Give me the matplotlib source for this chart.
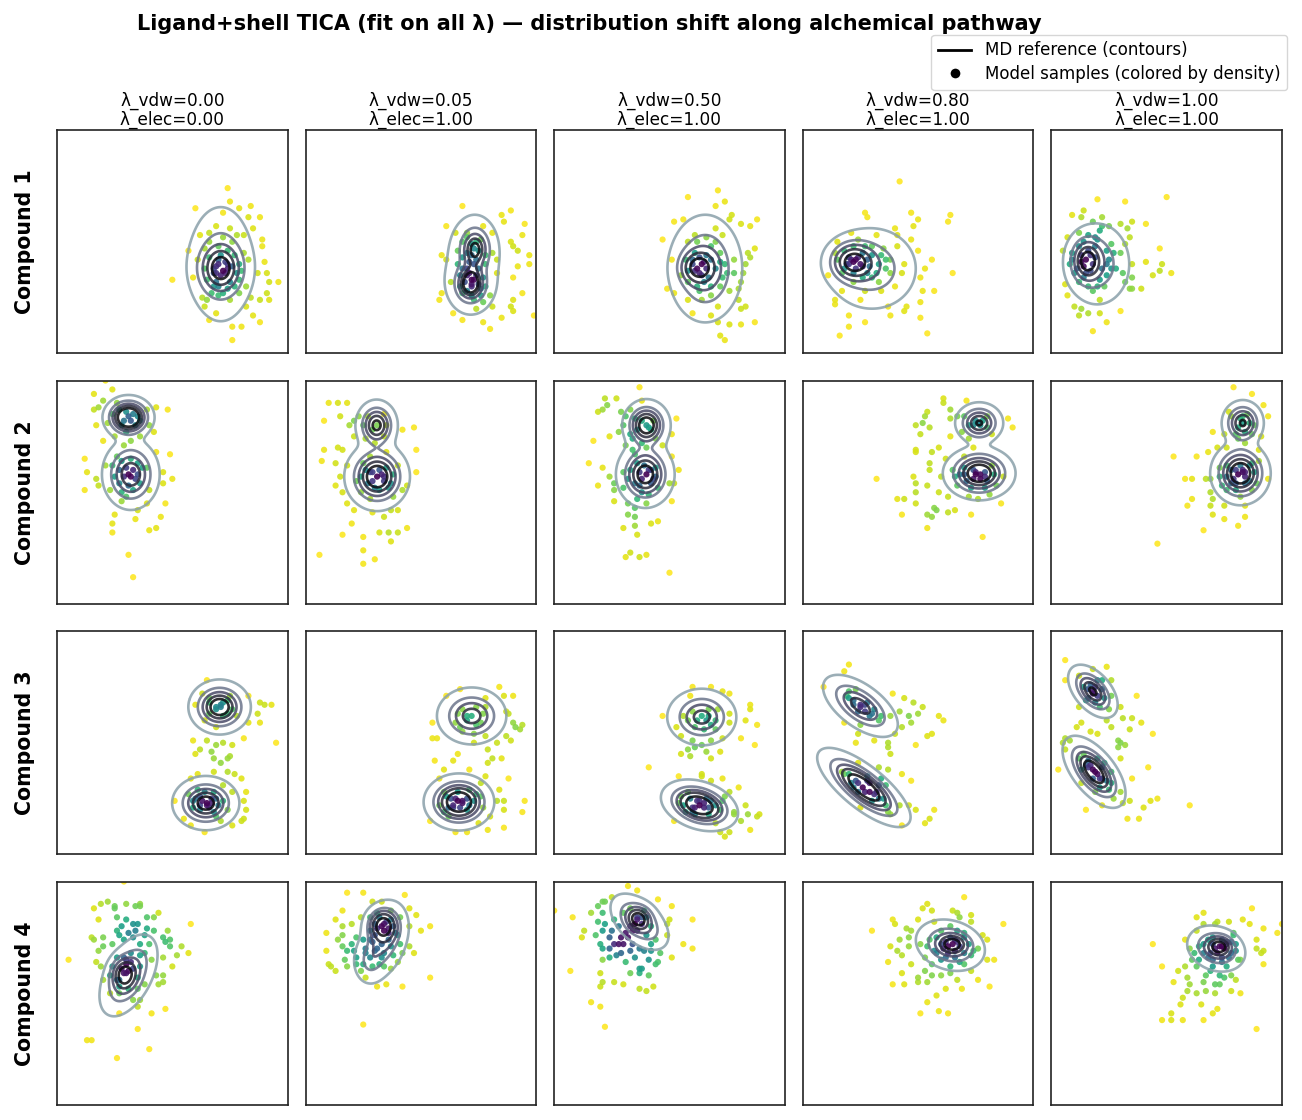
import numpy as np
import matplotlib.pyplot as plt
from matplotlib.lines import Line2D

# ----------------- labels -----------------
LAMBDA_VDW = [0.00, 0.05, 0.50, 0.80, 1.00]
LAMBDA_ELEC = [0.00, 1.00, 1.00, 1.00, 1.00]
COMPOUNDS = ["Compound 1", "Compound 2", "Compound 3", "Compound 4"]

# MD reference density: (cx, cy, sx, sy, rho, weight), TICA units 0-100
MD_C1 = [
    [(71, 38, 5, 6, 0, 0.5), (71, 40, 6.5, 12, 0, 0.5)],
    [(73.5, 47, 4, 6, 0, 0.4), (71.5, 31, 4, 5, 0, 0.4), (72, 38, 7, 11, 0, 0.2)],
    [(62.5, 38.5, 4, 4, 0, 0.3), (65.5, 38, 7, 10.5, 0, 0.7)],
    [(22, 41, 5, 4.5, 0, 0.5), (30, 38, 9, 8.5, 0, 0.5)],
    [(15.5, 41.5, 3.5, 5, 0, 0.5), (20, 40, 6.5, 8.5, 0, 0.5)],
]
MD_C2 = [
    [(31, 83.5, 4.5, 4, 0, 0.45), (32, 58, 5.5, 7, 0, 0.55)],
    [(30.8, 80, 4, 5, 0, 0.3), (31, 57, 6, 6.5, 0, 0.7)],
    [(40, 80, 4.5, 5, 0, 0.4), (39.5, 58, 5.5, 6.5, 0, 0.6)],
    [(76.5, 81, 4.5, 4, 0, 0.3), (76.5, 58.5, 6.5, 5, 0, 0.7)],
    [(83, 81, 4, 4.5, 0, 0.3), (82, 58.5, 5.5, 6, 0, 0.7)],
]
MD_C3 = [
    [(70.5, 66, 5.5, 5, 0, 0.5), (64.5, 23, 6, 5, 0, 0.5)],
    [(72, 62, 6.5, 5.5, 0, 0.4), (66.5, 23.5, 6, 5, 0, 0.6)],
    [(64, 61.5, 6.5, 5.5, 0, 0.4), (63, 22, 6.5, 4.5, -0.3, 0.6)],
    [(25, 66.5, 7, 6, -0.6, 0.35), (26.5, 30, 8, 7, -0.75, 0.65)],
    [(18, 73, 4.5, 5, -0.5, 0.35), (18.5, 37, 5.5, 6.5, -0.6, 0.65)],
]
MD_C4 = [
    [(29, 58.5, 3, 4, 0, 0.3), (31, 58, 5.5, 8, 0.5, 0.7)],
    [(33.5, 80.5, 3.5, 4, 0, 0.4), (34, 74, 5, 8, 0.3, 0.5), (27.5, 64, 3.5, 5, 0, 0.1)],
    [(36.5, 83.5, 3, 3, 0, 0.3), (37, 82, 5.5, 5.5, -0.5, 0.7)],
    [(65, 72, 3.5, 2.5, 0, 0.3), (64, 71.5, 6.5, 5, -0.2, 0.7)],
    [(73, 71, 3, 2.5, 0, 0.3), (71.5, 70, 5.5, 4.5, -0.2, 0.7)],
]

# model samples (TIC1, TIC2) per lambda window
SAMPLES_C1 = [
    [(74,74),(60,65),(84,66),(88,61),(75,68),(79,65),(83,61),(85,56),(89,51),(89,48),(57,46),(50,33),(90,41),(87,36),
     (91,36),(92,32),(96,32),(91,27),(92,24),(88,24),(84,25),(82,21),(85,17),(88,14),(80,12),(76,12),(76,6),(66,15),
     (69,18),(64,21),(63,25),(67,27),(59,34),(61,42),(64,47),(69,57),(72,63),(76,50),(78,53),(81,53),(81,45),(83,42),
     (71,44),(69,39),(73,36),(78,36),(76,39),(69,32),(70,30),(75,32),(79,33),(72,27),(75,24),(79,27),(68,36),(74,40),
     (82,30),(65,24),(62,53),(66,54),(70,40),(72,37),(68,38),(74,38),(71,35),(70,42),(73,41),(69,36),
     (66,50),(70,48),(74,46),(77,44),(79,40),(80,37),(77,30),(74,29),(68,30),(65,33),(64,38),(66,43),(72,52),(75,56),
     (70,26)],
    [(68,66),(89,64),(85,62),(86,59),(95,58),(94,53),(89,50),(92,46),(90,48),(97,44),(97,40),(92,39),(90,34),(94,27),
     (90,24),(89,21),(90,19),(85,16),(99,17),(80,11),(77,14),(68,15),(64,18),(58,24),(59,27),(59,44),(61,42),(61,57),
     (65,54),(70,54),(77,57),(81,54),(72,49),(76,51),(70,45),(71,41),(74,42),(68,38),(75,38),(70,35),(77,34),(72,30),
     (72,31),(73,33),(67,30),(68,27),(76,29),(73,24),(77,23),(80,26),(81,21),(74,20),(63,32),(83,42),(83,36),(81,45),
     (73,47),(74,50),(72,44),(71,36),(72,33),(70,38),(73,40),(74,35),
     (66,46),(68,50),(70,52),(75,46),(78,44),(78,40),(66,40),(67,35),(69,32),(75,31),(78,30),(70,28),(72,26),(76,26),
     (68,43)],
    [(71,73),(58,70),(74,68),(70,66),(77,62),(88,60),(81,58),(52,59),(47,51),(56,60),(76,60),(85,57),(87,47),(84,45),
     (85,43),(83,40),(82,36),(81,32),(80,29),(76,28),(80,24),(83,21),(81,20),(87,14),(81,13),(76,13),(71,14),(72,8),
     (74,6),(60,18),(68,17),(49,29),(52,27),(51,42),(55,35),(58,24),(64,24),(68,26),(73,34),(65,32),(64,35),(65,41),
     (67,34),(60,40),(61,45),(68,48),(73,53),(70,56),(61,53),(78,42),(78,36),(58,32),(63,28),(71,21),
     (62,38),(64,40),(61,37),(63,36),(66,38),(60,42),(63,43),(66,44),
     (58,50),(62,50),(66,52),(70,50),(72,45),(74,40),(75,36),(72,30),(68,30),(62,30),(58,37),(57,42),(70,38),(68,42),
     (72,41)],
    [(42,77),(27,63),(28,61),(47,63),(64,62),(63,59),(48,57),(50,60),(40,56),(41,53),(47,51),(50,46),(56,42),(65,36),
     (53,38),(51,34),(52,28),(57,28),(51,23),(51,16),(54,9),(45,21),(44,19),(38,17),(37,21),(27,14),(20,12),(16,8),
     (20,17),(14,22),(14,24),(17,28),(11,35),(14,45),(15,50),(21,54),(24,51),(32,53),(35,47),(38,42),(41,48),(33,40),
     (26,39),(20,40),(23,42),(21,42),(26,45),(28,36),(33,32),(34,28),(27,28),(22,32),(17,36),(40,30),(43,36),(38,36),
     (25,24),(22,41),(24,43),(20,43),(25,40),(19,40),(23,38),(28,42),(30,44),
     (18,46),(22,48),(27,48),(30,48),(34,44),(36,38),(32,36),(29,39),(26,34),(22,36),(18,38),(15,42),(30,34),(36,42),
     (44,40)],
    [(20,69),(32,68),(50,70),(14,64),(9,62),(13,61),(22,61),(30,58),(35,59),(41,58),(33,56),(22,57),(18,59),(25,57),
     (12,54),(7,52),(34,52),(32,49),(47,47),(5,46),(41,41),(35,40),(48,40),(47,37),(52,36),(44,35),(35,34),(32,32),
     (35,29),(34,29),(39,29),(30,19),(24,14),(18,10),(12,17),(16,18),(21,18),(13,20),(10,21),(7,26),(6,31),(8,40),
     (9,45),(16,53),(19,48),(21,55),(25,42),(28,38),(24,35),(21,33),(16,30),(18,28),(21,24),(15,36),(13,41),(11,38),
     (26,49),(30,45),(31,36),(15,42),(17,44),(14,39),(18,40),(16,46),(13,44),(19,43),(17,37),
     (12,48),(14,50),(20,51),(24,46),(27,45),(26,38),(23,30),(20,30),(12,32),(10,36),(9,42),(22,38),(24,40),(14,34),
     (19,52)],
]
SAMPLES_C2 = [
    [(21,100),(16,94),(20,91),(24,96),(16,87),(18,88),(17,80),(26,90),(30,86),(32,82),(35,84),(39,87),(43,88),(48,87),
     (40,80),(25,75),(20,73),(29,71),(32,73),(36,75),(42,77),(49,67),(12,65),(13,59),(17,56),(12,51),(18,53),(21,62),
     (25,57),(27,60),(32,57),(35,58),(39,61),(43,68),(46,59),(50,56),(46,54),(40,51),(33,51),(28,50),(23,51),(28,46),
     (47,45),(35,42),(39,45),(25,40),(24,36),(24,32),(34,38),(40,33),(43,34),(45,39),(31,22),(33,12),(32,65),(26,66),
     (31,84),(29,82),(33,85),(31,58),(33,60),(29,57),(34,56),(30,61),
     (24,85),(27,87),(34,80),(28,80),(36,82),(22,81),(30,77),(24,62),(27,54),(31,53),(36,54),(37,61),(28,64),(35,63),
     (30,48)],
    [(10,90),(14,90),(18,90),(8,82),(15,84),(19,80),(23,84),(21,75),(8,69),(7,64),(13,63),(14,70),(16,69),(18,62),
     (15,57),(13,53),(16,50),(18,45),(21,42),(20,36),(16,31),(6,22),(25,30),(25,24),(25,18),(30,20),(32,32),(36,32),
     (37,28),(40,32),(44,34),(34,39),(29,41),(37,42),(40,42),(48,59),(48,69),(47,79),(42,78),(34,85),(34,75),(35,68),
     (28,66),(25,63),(29,59),(34,57),(37,54),(27,54),(42,51),(44,53),(24,50),(32,51),(40,62),
     (31,80),(29,78),(31,57),(33,58),(29,55),(32,60),(34,55),(28,59),
     (21,82),(25,80),(27,84),(35,80),(26,74),(30,72),(24,57),(26,60),(35,61),(38,58),(36,52),(30,52),(22,55),(28,47),
     (38,48)],
    [(37,97),(22,92),(19,86),(21,87),(23,89),(27,92),(29,86),(31,84),(35,83),(41,79),(44,74),(47,71),(51,76),(53,83),
     (38,91),(24,75),(17,73),(28,77),(31,71),(34,74),(38,72),(40,70),(35,67),(34,69),(21,61),(15,63),(19,53),(24,57),
     (26,54),(26,51),(26,46),(30,59),(32,56),(37,53),(41,49),(44,57),(50,54),(52,54),(51,66),(54,60),(51,46),(32,45),
     (35,43),(32,40),(35,39),(42,36),(45,37),(30,34),(35,35),(36,31),(33,23),(31,21),(37,21),(40,22),(50,14),(37,59),
     (41,60),(40,80),(38,82),(42,78),(40,58),(38,56),(42,60),(39,62),(43,56),
     (33,87),(36,78),(43,82),(30,80),(33,76),(36,63),(44,61),(42,54),(35,54),(33,60),(30,52),(38,50),(45,52),(36,47),
     (40,45)],
    [(61,92),(61,90),(71,91),(54,86),(49,80),(53,84),(52,81),(55,79),(51,76),(64,87),(67,84),(64,83),(75,82),(77,80),
     (80,84),(89,83),(91,79),(69,77),(64,75),(74,70),(70,66),(59,70),(56,68),(49,69),(49,68),(55,63),(55,60),(32,56),
     (48,57),(49,54),(54,53),(49,50),(41,47),(44,47),(49,45),(43,40),(57,43),(58,42),(54,40),(56,39),(54,34),(63,41),
     (66,42),(73,40),(78,30),(86,45),(87,57),(60,57),(59,50),(63,48),(67,53),(72,48),(76,47),(81,49),(75,59),(74,60),
     (79,57),(70,61),(82,62),(62,65),(76,81),(78,82),(74,80),(77,58),(75,58),(79,59),(77,56),(74,56),
     (70,84),(72,80),(80,79),(82,76),(72,74),(68,58),(71,55),(80,55),(83,58),(73,52),(79,52),(70,58),(66,57),(84,53),
     (65,60)],
    [(79,97),(87,94),(92,89),(94,84),(78,84),(83,84),(86,81),(81,79),(87,76),(91,75),(70,77),(75,76),(81,74),(84,72),
     (76,70),(72,70),(90,69),(68,68),(63,66),(53,66),(58,56),(61,56),(67,56),(69,56),(73,57),(78,60),(83,60),(84,59),
     (87,63),(90,64),(94,56),(87,51),(84,44),(82,48),(76,51),(69,50),(70,47),(75,44),(69,44),(61,47),(59,44),(70,40),
     (75,38),(81,35),(84,39),(66,33),(46,27),(80,54),(84,54),
     (83,81),(82,83),(81,58),(83,59),(80,60),(84,57),(82,62),(79,56),
     (77,86),(85,85),(88,80),(80,76),(84,77),(76,62),(78,54),(86,55),(88,59),(80,51),(76,57),(86,62),(74,53),(89,54),
     (73,61)],
]
SAMPLES_C3 = [
    [(65,78),(60,67),(83,71),(88,68),(90,67),(93,67),(87,63),(88,59),(83,59),(95,50),(81,52),(76,49),(72,50),(69,49),
     (65,51),(59,51),(62,47),(60,45),(67,46),(75,44),(74,43),(68,43),(71,41),(68,37),(74,37),(77,36),(80,34),(61,36),
     (58,34),(72,31),(76,28),(82,28),(81,24),(82,20),(81,16),(80,15),(76,13),(64,10),(51,24),(55,16),(58,13),(69,25),
     (67,23),(62,26),(65,22),(59,24),(61,29),(69,17),(71,15),(69,66),(71,67),(74,63),(66,68),(78,62),(69,57),(64,60),
     (75,71),(63,72),(71,66),(69,65),(72,68),(65,23),(63,24),(66,21),(62,22),(67,25),
     (66,63),(74,69),(76,65),(66,70),(72,62),(60,25),(62,20),(68,19),(70,22),(59,21),(68,28),(64,28),(72,24),(74,20),
     (57,27)],
    [(67,74),(61,71),(84,75),(86,71),(90,71),(78,70),(87,64),(88,63),(55,59),(90,59),(94,58),(93,56),(91,57),(87,53),
     (89,51),(83,50),(79,47),(78,53),(68,55),(73,54),(65,59),(68,65),(74,66),(77,63),(70,62),(57,52),(55,52),(73,50),
     (66,45),(64,42),(56,42),(60,38),(71,38),(79,41),(81,43),(85,43),(78,35),(88,34),(58,34),(76,32),(84,29),(83,24),
     (86,24),(95,24),(94,19),(86,20),(86,12),(79,11),(75,14),(70,10),(65,10),(54,15),(68,24),(71,22),(64,21),(65,25),
     (77,21),(80,17),(60,19),(71,29),(72,62),(70,60),(66,24),(68,23),(64,22),(67,21),(63,25),(70,25),
     (66,63),(76,59),(74,58),(67,57),(78,66),(61,26),(62,21),(70,20),(73,24),(58,22),(66,28),(74,27),(62,17),(76,26),
     (60,28)],
    [(60,75),(68,75),(73,73),(76,72),(59,71),(85,67),(85,65),(83,60),(88,58),(81,52),(87,49),(76,63),(76,59),(71,65),
     (67,62),(61,57),(65,56),(73,52),(70,56),(56,62),(47,62),(53,57),(55,53),(60,51),(64,49),(68,51),(72,46),(61,48),
     (58,47),(55,45),(59,44),(68,43),(66,46),(41,39),(54,35),(64,36),(64,35),(68,33),(73,34),(80,30),(76,28),(73,24),
     (78,18),(78,19),(83,22),(84,18),(89,18),(88,17),(81,15),(85,11),(76,10),(72,10),(74,8),(52,15),(54,23),(60,21),
     (63,24),(65,21),(61,18),(68,24),(70,14),(58,28),(64,62),(62,60),(66,60),(63,22),(65,23),(61,21),(67,21),(62,24),
     (60,64),(67,65),(70,60),(58,60),(68,58),(56,22),(59,25),(66,25),(70,22),(72,20),(60,19),(67,18),(57,19),(74,26),
     (55,26)],
    [(18,82),(20,85),(9,75),(20,73),(23,74),(20,70),(25,66),(27,67),(29,62),(24,64),(31,65),(34,62),(38,62),(42,64),
     (46,62),(47,59),(39,72),(44,70),(48,68),(52,66),(50,63),(59,62),(61,60),(54,53),(56,54),(49,49),(43,57),(40,54),
     (37,50),(37,48),(38,45),(31,51),(23,50),(24,54),(18,59),(25,58),(37,38),(43,36),(47,33),(33,39),(28,33),(27,28),
     (33,31),(36,31),(36,22),(37,19),(42,22),(46,22),(49,20),(57,20),(55,16),(53,14),(43,13),(38,18),(25,21),(21,32),
     (17,37),(24,41),(33,25),(25,67),(27,64),(22,69),(26,30),(24,32),(29,28),(23,33),(31,27),
     (22,67),(30,63),(28,68),(33,60),(19,71),(20,36),(28,35),(32,28),(35,25),(24,28),(18,36),(30,24),(22,30),(34,34),
     (29,32)],
    [(6,87),(6,78),(24,84),(18,83),(12,80),(22,78),(26,78),(18,72),(19,75),(16,74),(23,70),(26,71),(15,69),(21,66),
     (25,65),(30,66),(31,61),(12,66),(37,71),(35,61),(39,59),(24,60),(13,59),(11,57),(17,55),(20,54),(26,57),(34,56),
     (44,54),(6,52),(5,50),(8,51),(6,47),(29,51),(30,50),(29,48),(32,49),(30,43),(3,38),(12,43),(15,40),(19,37),
     (22,34),(26,37),(25,29),(42,39),(35,34),(30,28),(27,25),(34,24),(31,23),(43,24),(46,25),(40,21),(22,22),(15,20),
     (33,16),(38,16),(60,22),(19,28),(13,32),(18,73),(17,76),(20,71),(18,38),(17,40),(20,36),(16,39),(21,34),
     (14,75),(20,78),(22,74),(16,70),(19,68),(14,45),(20,43),(22,39),(24,33),(13,38),(18,34),(26,32),(16,42),(23,41),
     (21,30)],
]
SAMPLES_C4 = [
    [(29,100),(16,88),(19,90),(22,91),(25,89),(25,88),(30,90),(34,89),(36,90),(36,89),(44,86),(42,84),(26,84),(18,83),
     (30,83),(39,84),(33,81),(35,81),(28,80),(39,79),(42,78),(48,78),(58,81),(26,78),(20,75),(15,75),(16,74),(29,74),
     (33,75),(36,72),(20,71),(18,69),(46,75),(49,74),(47,73),(54,71),(49,71),(57,68),(52,67),(46,66),(5,65),(17,64),
     (32,68),(30,65),(36,67),(41,65),(50,62),(19,62),(30,59),(26,56),(35,57),(46,58),(43,58),(46,55),(44,54),(38,54),
     (20,56),(23,50),(33,47),(36,47),(35,44),(27,41),(41,41),(47,43),(35,34),(13,29),(15,29),(40,25),(26,21),
     (29,59),(28,61),(31,60),(27,56),(30,63),(32,64),(29,66),(27,53),
     (24,72),(27,76),(31,77),(34,78),(38,76),(40,72),(26,66),(24,62),(33,61),(36,62),(38,68),(23,58),(31,52),(27,50),
     (35,52)],
    [(18,95),(25,95),(43,94),(45,88),(48,85),(54,80),(50,78),(9,77),(13,83),(16,87),(16,80),(14,74),(16,76),(20,81),
     (22,75),(20,72),(16,71),(18,69),(21,69),(9,69),(10,63),(11,62),(13,60),(17,65),(18,62),(22,63),(25,63),(26,68),
     (25,74),(28,78),(24,84),(29,91),(33,91),(37,87),(41,84),(45,80),(36,79),(34,81),(30,81),(39,77),(33,72),(37,71),
     (30,69),(34,68),(41,72),(47,68),(45,71),(42,68),(40,64),(37,61),(32,63),(34,62),(26,57),(31,53),(35,54),(42,53),
     (54,57),(25,36),(33,80),(35,82),(31,79),(34,78),(32,84),(30,76),(36,77),(29,73),
     (28,84),(31,86),(37,83),(38,80),(40,76),(36,74),(28,74),(26,70),(31,70),(38,67),(28,66),(33,66),(22,66),(29,62),
     (24,60)],
    [(32,98),(36,96),(0,87),(8,84),(16,86),(19,89),(21,91),(22,91),(25,93),(21,86),(19,82),(22,81),(13,78),(12,75),
     (18,76),(21,78),(25,78),(24,75),(26,72),(28,72),(32,75),(34,72),(37,70),(39,69),(20,72),(21,70),(24,70),(27,67),
     (33,69),(36,84),(39,87),(45,92),(51,89),(50,83),(49,81),(49,76),(42,69),(56,72),(60,83),(60,70),(46,68),(51,66),
     (41,65),(44,63),(45,64),(37,61),(38,61),(33,59),(37,59),(41,58),(21,65),(7,60),(20,59),(21,55),(20,53),(26,55),
     (30,54),(37,52),(40,51),(43,53),(16,46),(20,44),(22,35),(36,83),(38,84),(35,81),(33,80),(38,81),(34,78),(31,77),
     (29,75),(30,86),(33,88),(40,84),(42,80),(36,78),(28,80),(26,83),(30,72),(40,76),(44,74),(29,68),(35,66),(24,66),
     (42,72),(31,64)],
    [(70,93),(54,90),(52,88),(56,87),(65,87),(67,86),(73,85),(87,81),(50,83),(39,83),(40,81),(30,78),(45,79),(47,78),
     (46,75),(42,74),(46,71),(38,71),(41,69),(43,67),(37,64),(47,63),(43,59),(39,54),(44,54),(50,55),(54,55),(50,57),
     (53,60),(56,58),(60,58),(64,59),(67,56),(69,52),(62,52),(58,49),(54,46),(59,42),(63,41),(51,41),(76,56),(81,53),
     (73,60),(80,65),(83,65),(80,74),(78,76),(73,82),(68,84),(57,82),(51,72),(54,71),(57,69),(53,66),(60,65),(64,62),
     (70,63),(73,67),(63,68),(66,74),(70,77),(60,78),(65,72),(63,71),(67,73),(62,73),(68,71),(60,72),(66,69),(64,75),
     (58,75),(61,70),(62,66),(66,66),(70,68),(72,72),(70,75),(67,78),(74,69),(58,68),(55,74),(64,80),(76,70),(56,63),
     (68,64)],
    [(87,88),(66,86),(63,84),(83,83),(86,81),(77,82),(72,82),(71,81),(66,81),(100,81),(98,77),(92,79),(89,74),(89,70),
     (92,69),(91,68),(92,63),(44,72),(48,62),(53,55),(55,60),(58,62),(58,74),(59,57),(61,65),(63,78),(60,70),(64,65),
     (68,66),(74,71),(76,72),(79,77),(79,76),(80,69),(81,65),(76,62),(70,62),(67,58),(73,58),(75,57),(78,58),(80,56),
     (82,65),(66,55),(71,54),(73,54),(60,54),(59,51),(63,50),(67,51),(71,50),(78,51),(82,50),(57,48),(56,45),(65,45),
     (70,41),(72,43),(52,41),(48,38),(52,38),(57,38),(66,38),(89,34),(73,71),(71,70),(75,70),(70,72),(72,68),(76,73),
     (69,68),(74,66),(68,74),(70,75),(74,74),(78,73),(80,72),(78,68),(74,64),(70,65),(66,68),(64,71),(66,72),(77,66),
     (69,60),(63,62),(62,68)],
]

MD_ALL = [MD_C1, MD_C2, MD_C3, MD_C4]
SAMPLES_ALL = [SAMPLES_C1, SAMPLES_C2, SAMPLES_C3, SAMPLES_C4]
# probability mass enclosed by each MD contour (outer -> inner)
CONTOUR_MASS = [0.95, 0.76, 0.57, 0.38, 0.19]


def md_density(comps, X, Y):
    Z = np.zeros_like(X)
    for cx, cy, sx, sy, rho, w in comps:
        dx = (X - cx) / sx
        dy = (Y - cy) / sy
        q = (dx**2 - 2 * rho * dx * dy + dy**2) / (1 - rho**2)
        Z += w / (2 * np.pi * sx * sy * np.sqrt(1 - rho**2)) * np.exp(-0.5 * q)
    return Z


def iso_levels(Z, masses):
    z = np.sort(Z.ravel())[::-1]
    cum = np.cumsum(z)
    cum /= cum[-1]
    return sorted(z[np.searchsorted(cum, m)] for m in masses)


def sample_density(pts, h=4.0):
    d2 = ((pts[:, None, :] - pts[None, :, :])**2).sum(-1)
    return np.exp(-0.5 * d2 / h**2).sum(1) - 1.0  # leave self out


def main():
    fig, axes = plt.subplots(4, 5, figsize=(13.02, 11.2), dpi=100)
    fig.subplots_adjust(left=0.0438, right=0.9846, top=0.8839, bottom=0.0134,
                        wspace=0.078, hspace=0.121)

    gx = np.linspace(-30, 130, 321)
    X, Y = np.meshgrid(gx, gx)
    ccols = plt.cm.bone(np.linspace(0.62, 0.05, len(CONTOUR_MASS)))

    for r in range(4):
        for c in range(5):
            ax = axes[r, c]
            pts = np.array(SAMPLES_ALL[r][c], dtype=float)
            dens = sample_density(pts)
            dens = (dens / dens.max()) ** 1.7
            order = np.argsort(dens)
            ax.scatter(pts[order, 0], pts[order, 1], c=dens[order], cmap="viridis_r",
                       vmin=0.0, vmax=1.0, s=20, alpha=0.9, linewidths=0, zorder=2)

            Z = md_density(MD_ALL[r][c], X, Y)
            ax.contour(X, Y, Z, levels=iso_levels(Z, CONTOUR_MASS), colors=ccols,
                       linewidths=1.9, alpha=0.85, zorder=3)

            ax.set_xlim(0, 100)
            ax.set_ylim(0, 100)
            ax.set_xticks([])
            ax.set_yticks([])
            for sp in ax.spines.values():
                sp.set_linewidth(1.2)
                sp.set_color("#222222")
            if r == 0:
                ax.set_title(f"λ_vdw={LAMBDA_VDW[c]:.2f}\nλ_elec={LAMBDA_ELEC[c]:.2f}",
                             fontsize=12.2, linespacing=1.0, pad=4)
            if c == 0:
                ax.set_ylabel(COMPOUNDS[r], fontsize=14.8, fontweight="bold", labelpad=16)

    fig.text(0.453, 0.979, "Ligand+shell TICA (fit on all λ) — distribution shift along alchemical pathway",
             ha="center", va="center", fontsize=15, fontweight="bold")

    handles = [
        Line2D([0], [0], color="black", lw=2, label="MD reference (contours)"),
        Line2D([0], [0], marker="o", color="w", markerfacecolor="black", markersize=8,
               label="Model samples (colored by density)"),
    ]
    fig.legend(handles=handles, loc="upper right", bbox_to_anchor=(0.9885, 0.969),
               fontsize=12, borderaxespad=0.0, handletextpad=0.8, borderpad=0.4,
               labelspacing=0.35)

    plt.savefig("out.png", dpi=100)


if __name__ == "__main__":
    main()
